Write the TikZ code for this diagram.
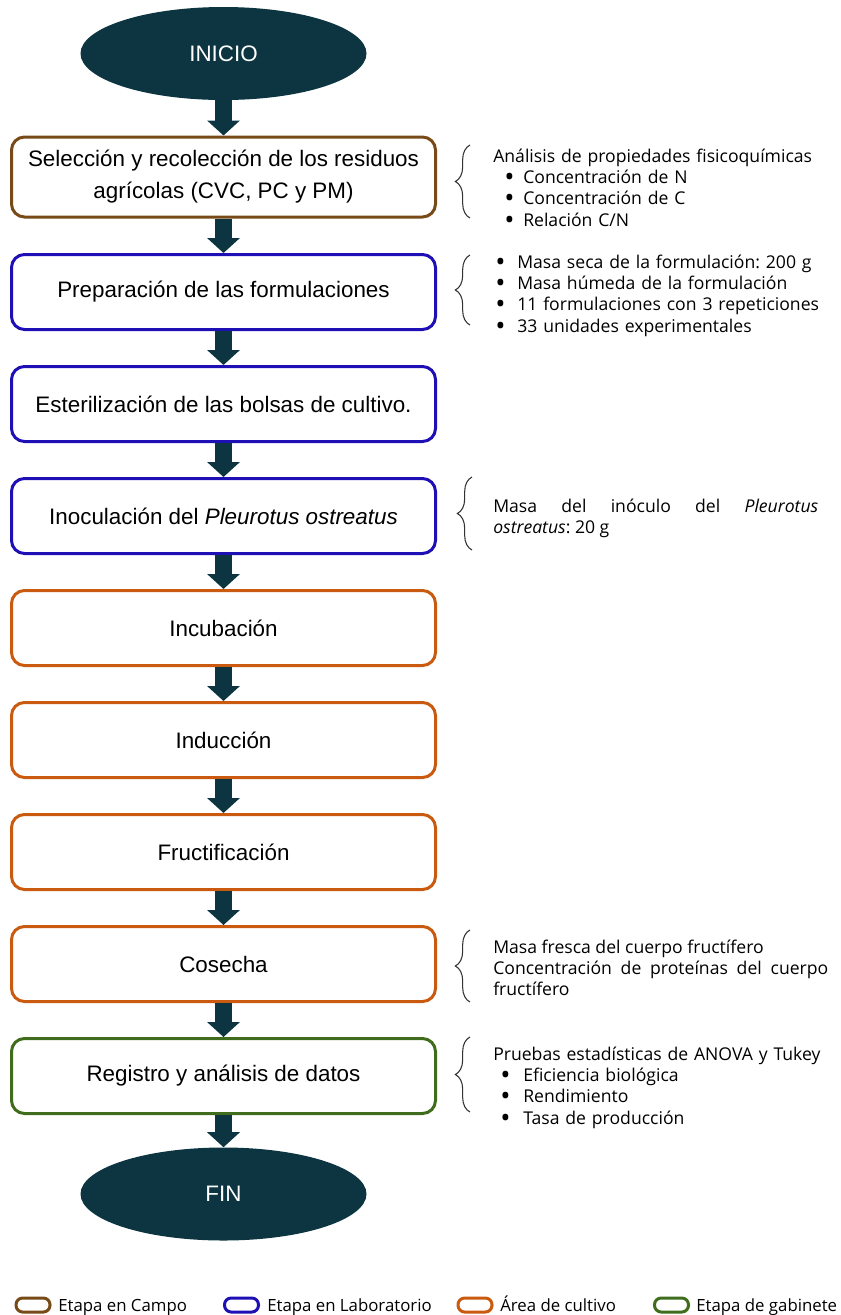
\documentclass[tikz,border=0pt]{standalone}
\usepackage{fontspec}
\setmainfont{Liberation Sans}
\newfontfamily\notas{Open Sans}
\usetikzlibrary{shapes.geometric,arrows.meta,decorations.pathreplacing}
\definecolor{petroleo}{HTML}{0C3541}
\definecolor{campo}{HTML}{774A17}
\definecolor{laboratorio}{HTML}{1E10B4}
\definecolor{cultivo}{HTML}{C95A10}
\definecolor{gabinete}{HTML}{3F6C1D}
\newcommand\punto[2]{\hspace*{#1}\makebox[#2][l]{\smash{\raisebox{-0.17em}{\scalebox{1.55}{•}}}}}

\begin{document}
\begin{tikzpicture}[x=0.75pt,y=-0.75pt,
    etapa/.style={draw=#1,line width=2.25pt,rounded corners=9.75pt,minimum width=318pt,minimum height=56.25pt,inner sep=0pt,align=center,font=\fontsize{16.8pt}{24pt}\selectfont},
    extremo/.style={ellipse,fill=petroleo,text=white,minimum width=214.5pt,minimum height=69.75pt,inner sep=0pt,font=\fontsize{16.8pt}{20pt}\selectfont},
    flecha/.style={draw=petroleo,line width=12.75pt,-{Triangle[width=24pt,length=11.25pt]}},
    nota/.style={anchor=base west,inner sep=0pt,text width=#1,font=\notas\fontsize{13.2pt}{16.1pt}\selectfont\frenchspacing},
    llave/.style={draw=black!80,line width=0.8pt,decorate,decoration={brace,amplitude=11pt}},
    muestra/.style={draw=#1,line width=2.25pt,rounded corners=5pt,minimum width=25.5pt,minimum height=10.5pt,inner sep=0pt},
    leyenda/.style={anchor=base west,inner sep=0pt,font=\notas\fontsize{12.6pt}{15pt}\selectfont}]
  \useasboundingbox (0,0) rectangle (841,1315);
  \node[extremo] (inicio) at (223.5,53.5) {INICIO};
  \node[etapa=campo,minimum height=60pt] (seleccion) at (223.5,177) {Selección y recolección de los residuos\\agrícolas (CVC, PC y PM)};
  \node[etapa=laboratorio] (preparacion) at (223.5,292) {Preparación de las formulaciones};
  \node[etapa=laboratorio] (esterilizacion) at (223.5,404) {Esterilización de las bolsas de cultivo.};
  \node[etapa=laboratorio] (inoculacion) at (223.5,516) {Inoculación del \textit{Pleurotus ostreatus}};
  \node[etapa=cultivo] (incubacion) at (223.5,628) {Incubación};
  \node[etapa=cultivo] (induccion) at (223.5,740) {Inducción};
  \node[etapa=cultivo] (fructificacion) at (223.5,852) {Fructificación};
  \node[etapa=cultivo] (cosecha) at (223.5,964) {Cosecha};
  \node[etapa=gabinete] (registro) at (223.5,1076) {Registro y análisis de datos};
  \node[extremo] (fin) at (223.5,1194) {FIN};
  \foreach \a/\b in {inicio/seleccion,seleccion/preparacion,preparacion/esterilizacion,esterilizacion/inoculacion,inoculacion/incubacion,incubacion/induccion,induccion/fructificacion,fructificacion/cosecha,cosecha/registro,registro/fin}
    \draw[flecha] (\a) -- (\b);
  \node[nota=260pt,align=left] (analisis) at (493,162) {Análisis de propiedades fisicoquímicas\\\punto{8.25pt}{14.25pt}Concentración de N\\\punto{8.25pt}{14.25pt}Concentración de C\\\punto{8.25pt}{14.25pt}Relación C/N};
  \node[nota=260pt,align=left] (formulacion) at (493,268) {\punto{1.5pt}{16.5pt}Masa seca de la formulación: 200 g\\\punto{1.5pt}{16.5pt}Masa húmeda de la formulación\\\punto{1.5pt}{16.5pt}11 formulaciones con 3 repeticiones\\\punto{1.5pt}{16.5pt}33 unidades experimentales};
  \node[nota=243.75pt,align=justify] (inoculo) at (493,512) {Masa del inóculo del \textit{Pleurotus}\linebreak \textit{ostreatus}: 20 g};
  \node[nota=251.25pt,align=justify] (masa) at (493,953) {Masa fresca del cuerpo fructífero\\Concentración de proteínas del cuerpo\linebreak fructífero};
  \node[nota=260pt,align=left] (pruebas) at (493,1060) {Pruebas estadísticas de ANOVA y Tukey\\\punto{5.25pt}{17.25pt}Eficiencia biológica\\\punto{5.25pt}{17.25pt}Rendimiento\\\punto{5.25pt}{17.25pt}Tasa de producción};
  \draw[llave] (470,218) -- (470,145);
  \draw[llave] (470,325) -- (470,255);
  \draw[llave] (472,550) -- (472,477);
  \draw[llave] (470,1002) -- (470,930);
  \draw[llave] (470,1112) -- (470,1037);
  \node[muestra=campo] (ley1) at (33,1305) {};
  \node[leyenda] (txt1) at (58,1311) {Etapa en Campo};
  \node[muestra=laboratorio] (ley2) at (241.5,1305) {};
  \node[leyenda] (txt2) at (267,1311) {Etapa en Laboratorio};
  \node[muestra=cultivo] (ley3) at (475,1305) {};
  \node[leyenda] (txt3) at (500,1311) {Área de cultivo};
  \node[muestra=gabinete] (ley4) at (671.5,1305) {};
  \node[leyenda] (txt4) at (696,1311) {Etapa de gabinete};
\end{tikzpicture}
\end{document}
